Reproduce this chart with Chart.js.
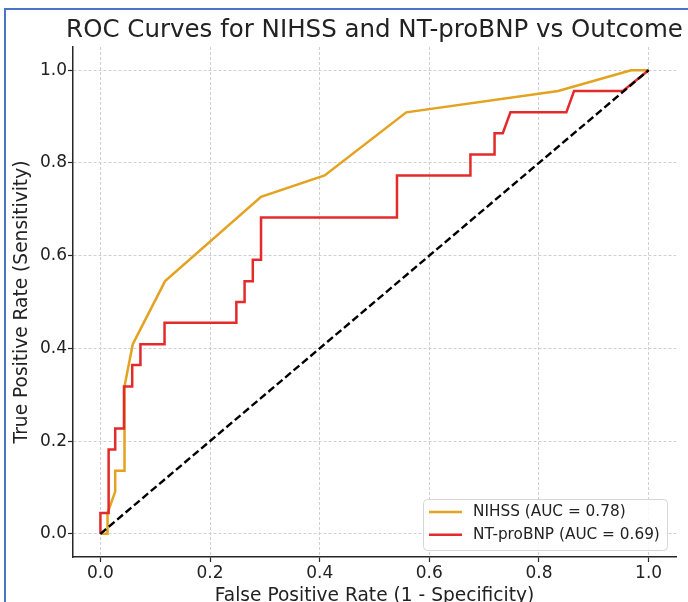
<!DOCTYPE html>
<html><head><meta charset="utf-8">
<script src="https://cdn.jsdelivr.net/npm/chart.js@4"></script>
<style>html,body{margin:0;padding:0;background:#fff}canvas{display:block}</style>
</head><body>
<canvas id="c" width="688" height="602"></canvas>
<script>
const TITLE = 'ROC Curves for NIHSS and NT-proBNP vs Outcome';
const X_LABEL = 'False Positive Rate (1 - Specificity)';
const Y_LABEL = 'True Positive Rate (Sensitivity)';
const TICKS = [0, 0.2, 0.4, 0.6, 0.8, 1.0];

const nihssLabel = 'NIHSS (AUC = 0.78)';
const nihssFpr = [0, 0.013, 0.013, 0.027, 0.027, 0.044, 0.044, 0.059, 0.118, 0.293, 0.409, 0.558, 0.835, 0.968, 1.0];
const nihssTpr = [0, 0, 0.045, 0.091, 0.136, 0.136, 0.318, 0.409, 0.545, 0.727, 0.773, 0.909, 0.955, 1.0, 1.0];

const ntLabel = 'NT-proBNP (AUC = 0.69)';
const ntFpr = [0, 0, 0.015, 0.015, 0.027, 0.027, 0.043, 0.043, 0.058, 0.058, 0.073, 0.073, 0.117, 0.117, 0.248, 0.248, 0.263, 0.263, 0.278, 0.278, 0.293, 0.293, 0.541, 0.541, 0.675, 0.675, 0.719, 0.719, 0.734, 0.748, 0.850, 0.864, 0.953, 1.0];
const ntTpr = [0, 0.045, 0.045, 0.182, 0.182, 0.227, 0.227, 0.318, 0.318, 0.364, 0.364, 0.409, 0.409, 0.455, 0.455, 0.5, 0.5, 0.545, 0.545, 0.591, 0.591, 0.682, 0.682, 0.773, 0.773, 0.818, 0.818, 0.864, 0.864, 0.909, 0.909, 0.955, 0.955, 1.0];

const chanceFpr = [0, 1];
const chanceTpr = [0, 1];

const ORANGE = '#e3a21f';
const RED = '#e32b2b';
const FONT = '"DejaVu Sans", sans-serif';

const toPoints = (xs, ys) => xs.map((x, i) => ({x: x, y: ys[i]}));

const framePlugin = {
  id: 'frame',
  beforeDraw(chart) {
    const ctx = chart.ctx;
    ctx.save();
    ctx.fillStyle = '#ffffff';
    ctx.fillRect(0, 0, chart.width, chart.height);
    ctx.strokeStyle = '#4a74c6';
    ctx.lineWidth = 2;
    ctx.beginPath();
    ctx.moveTo(5, chart.height);
    ctx.lineTo(5, 9);
    ctx.lineTo(chart.width, 9);
    ctx.stroke();
    ctx.restore();
  },
  afterDraw(chart) {
    const ctx = chart.ctx;
    const ca = chart.chartArea;
    ctx.save();
    ctx.font = '24.5px ' + FONT;
    ctx.fillStyle = '#222222';
    ctx.textAlign = 'center';
    ctx.textBaseline = 'alphabetic';
    ctx.fillText(TITLE, (ca.left + ca.right) / 2, 37);
    ctx.restore();
  }
};

const legendPlugin = {
  id: 'innerLegend',
  afterDatasetsDraw(chart) {
    const ctx = chart.ctx;
    const bx = 423.5, by = 499.5, bw = 244, bh = 51;
    ctx.save();
    ctx.beginPath();
    ctx.roundRect(bx, by, bw, bh, 4);
    ctx.fillStyle = 'rgba(255,255,255,0.85)';
    ctx.fill();
    ctx.strokeStyle = '#d6d6d6';
    ctx.lineWidth = 1;
    ctx.stroke();
    const items = chart.data.datasets.filter(d => d.inLegend);
    items.forEach((d, i) => {
      const y = 512 + i * 22.7;
      ctx.strokeStyle = d.borderColor;
      ctx.lineWidth = 2.5;
      ctx.setLineDash([]);
      ctx.beginPath();
      ctx.moveTo(429, y);
      ctx.lineTo(462, y);
      ctx.stroke();
      ctx.font = '15.3px ' + FONT;
      ctx.fillStyle = '#222222';
      ctx.textAlign = 'left';
      ctx.textBaseline = 'middle';
      ctx.fillText(d.label, 473, y);
    });
    ctx.restore();
  }
};

const axisCommon = (label, isX) => ({
  type: 'linear',
  min: -0.05,
  max: 1.05,
  afterBuildTicks: s => { s.ticks = TICKS.map(v => ({value: v})); },
  afterFit: s => { if (isX) s.height = 45; else s.width = 73; },
  ticks: {
    callback: v => Number(v).toFixed(1),
    font: {family: FONT, size: 17},
    color: '#222222',
    padding: 1,
    maxRotation: 0,
    autoSkip: false
  },
  grid: {
    color: '#cfcfcf',
    lineWidth: 1,
    tickLength: 5,
    tickColor: '#262626',
    tickWidth: 1.2
  },
  border: {display: true, color: '#262626', width: 1.5, dash: [3, 2]},
  title: {
    display: true,
    text: label,
    font: {family: FONT, size: 18.6},
    color: '#222222',
    padding: isX ? {top: 0, bottom: -5.5} : {top: 11.5, bottom: 0}
  }
});

new Chart(document.getElementById('c'), {
  type: 'scatter',
  data: {
    datasets: [
      {label: nihssLabel, inLegend: true, data: toPoints(nihssFpr, nihssTpr), showLine: true, borderColor: ORANGE, backgroundColor: ORANGE, borderWidth: 2.5, pointRadius: 0, tension: 0, order: 3},
      {label: ntLabel, inLegend: true, data: toPoints(ntFpr, ntTpr), showLine: true, borderColor: RED, backgroundColor: RED, borderWidth: 2.5, pointRadius: 0, tension: 0, order: 2},
      {label: 'Chance', inLegend: false, data: toPoints(chanceFpr, chanceTpr), showLine: true, borderColor: '#000000', borderWidth: 2.4, borderDash: [7.5, 3.5], pointRadius: 0, tension: 0, order: 1}
    ]
  },
  options: {
    responsive: false,
    animation: false,
    devicePixelRatio: 1,
    layout: {padding: {top: 47, right: 12, left: 0, bottom: 0}},
    plugins: {legend: {display: false}, tooltip: {enabled: false}, title: {display: false}},
    scales: {
      x: axisCommon(X_LABEL, true),
      y: axisCommon(Y_LABEL, false)
    }
  },
  plugins: [framePlugin, legendPlugin]
});
</script>
</body></html>
